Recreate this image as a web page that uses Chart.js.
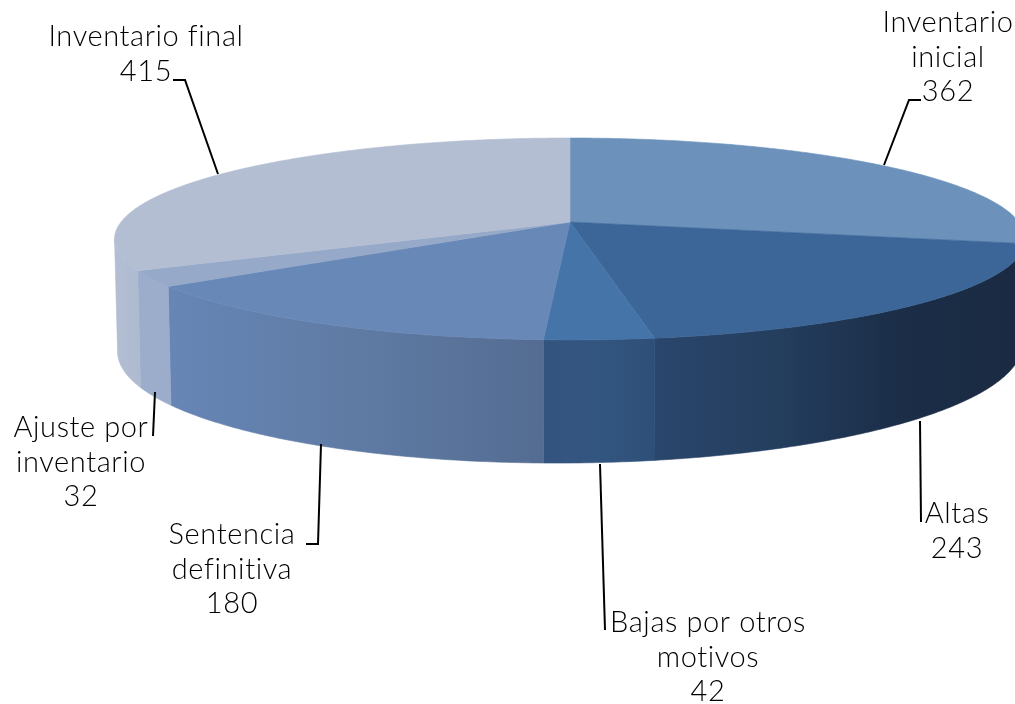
<!DOCTYPE html>
<html lang="es">
<head>
<meta charset="UTF-8">
<title>Inventario</title>
<script src="https://cdn.jsdelivr.net/npm/chart.js"></script>
<style>
    html, body { margin: 0; padding: 0; background: #fff; }
    canvas { display: block; }
</style>
</head>
<body>
<canvas id="myChart" width="1015" height="704"></canvas>
<script>
const categories = ['Inventario inicial', 'Altas', 'Bajas por otros motivos', 'Sentencia definitiva', 'Ajuste por inventario', 'Inventario final'];
const values = [362, 243, 42, 180, 32, 415];
const topColors = ['#6c92bc', '#3d6698', '#4574a9', '#6888b7', '#96a9c9', '#b3bed3'];

// side wall colours, left to right
const wallColors = [
    ['#1a2a42', '#1a2a42'],
    ['#2a466c', '#243e5e', '#1b2d47', '#1a2a42'],
    ['#33547f', '#335680', '#2d4f78'],
    ['#6786b6', '#5f7ba4', '#546c92'],
    ['#9cadcb', '#9cadcb'],
    ['#b3bed3', '#aebad0']
];

// label lines, anchor, leader line
const labelLines = [
    ['Inventario', 'inicial'],
    ['Altas'],
    ['Bajas por otros', 'motivos'],
    ['Sentencia', 'definitiva'],
    ['Ajuste por', 'inventario'],
    ['Inventario final']
];
const labelCenters = [[948, 32], [957, 523], [708, 632], [232, 544], [81, 437], [146, 46]];
const leaders = [
    [[884, 165], [909, 100], [921, 100]],
    [[920, 421], [921, 522]],
    [[600, 464], [605, 630]],
    [[321, 444], [318, 544], [306, 544]],
    [[155, 392], [153, 436]],
    [[218, 174], [185, 80], [173, 80]]
];

const LINE_H = 34.6;
const topDisc = { cx: 570, cy: 222, r: 449, s: 98.1, k: 0.168, sh: 0 };
const botDisc = { cx: 570, cy: 328.4, r: 446, s: 112, k: 0.168, sh: -4 };

// circle angle -> page, perspective projection of the disc
function project(d, angle) {
    const u = Math.cos(angle), v = Math.sin(angle);
    const w = 1 - d.k * v;
    return [d.cx + d.r * u / w, d.cy + d.s * v / w + d.sh * u];
}

function arcPoints(d, a0, a1) {
    const n = Math.max(2, Math.ceil(Math.abs(a1 - a0) / 0.01));
    const pts = [];
    for (let i = 0; i <= n; i++) pts.push(project(d, a0 + (a1 - a0) * i / n));
    return pts;
}

function tracePoints(ctx, pts, first) {
    pts.forEach((p, i) => {
        if (i === 0 && first) ctx.moveTo(p[0], p[1]);
        else ctx.lineTo(p[0], p[1]);
    });
}

const pie3d = {
    id: 'pie3d',
    beforeDatasetsDraw(chart) {
        const ctx = chart.ctx;
        const arcs = chart.getDatasetMeta(0).data;

        // walls, only the part facing the viewer
        const edge = Math.asin(topDisc.k);
        arcs.forEach((el, i) => {
            const a0 = Math.max(el.startAngle, edge);
            const a1 = Math.min(el.endAngle, Math.PI - edge);
            if (a0 >= a1) return;
            const upper = arcPoints(topDisc, a0, a1);
            const lower = arcPoints(botDisc, a1, a0);
            const xs = upper.concat(lower).map(p => p[0]);
            const grad = ctx.createLinearGradient(Math.min(...xs), 0, Math.max(...xs), 0);
            wallColors[i].forEach((c, j) => grad.addColorStop(j / (wallColors[i].length - 1), c));
            ctx.beginPath();
            tracePoints(ctx, upper, true);
            tracePoints(ctx, lower, false);
            ctx.closePath();
            ctx.fillStyle = grad;
            ctx.strokeStyle = grad;
            ctx.lineWidth = 0.6;
            ctx.fill();
            ctx.stroke();
        });

        // top face
        arcs.forEach(el => {
            ctx.beginPath();
            ctx.moveTo(topDisc.cx, topDisc.cy);
            tracePoints(ctx, arcPoints(topDisc, el.startAngle, el.endAngle), false);
            ctx.closePath();
            ctx.fillStyle = el.options.backgroundColor;
            ctx.strokeStyle = el.options.backgroundColor;
            ctx.lineWidth = 0.6;
            ctx.fill();
            ctx.stroke();
        });

        // leader lines
        ctx.strokeStyle = '#000';
        ctx.lineWidth = 2;
        leaders.forEach(line => {
            ctx.beginPath();
            tracePoints(ctx, line, true);
            ctx.stroke();
        });

        // labels
        ctx.fillStyle = '#000';
        ctx.font = '300 29px Lato';
        ctx.letterSpacing = '0.6px';
        ctx.textAlign = 'center';
        ctx.textBaseline = 'alphabetic';
        labelLines.forEach((lines, i) => {
            const all = lines.concat(String(values[i]));
            all.forEach((txt, j) => ctx.fillText(txt, labelCenters[i][0], labelCenters[i][1] + j * LINE_H));
        });
        return false;
    }
};

new Chart(document.getElementById('myChart'), {
    type: 'pie',
    data: {
        labels: categories,
        datasets: [{ data: values, backgroundColor: topColors, borderWidth: 0 }]
    },
    options: {
        responsive: false,
        animation: false,
        plugins: { legend: { display: false }, tooltip: { enabled: false } }
    },
    plugins: [pie3d]
});
</script>
</body>
</html>
